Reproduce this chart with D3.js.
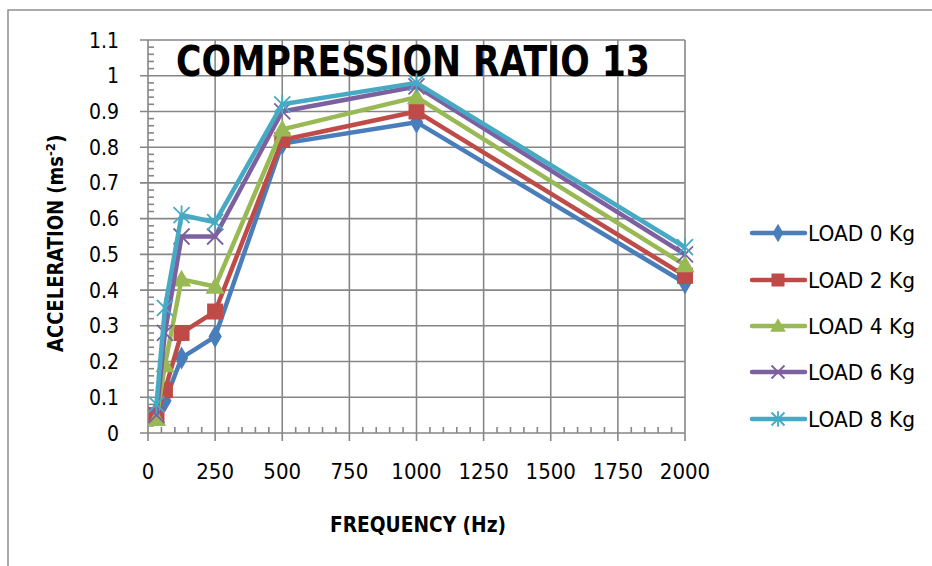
<!DOCTYPE html>
<html><head><meta charset="utf-8">
<script src="https://cdn.jsdelivr.net/npm/d3@7"></script>
<style>body{margin:0;background:#fff}svg{display:block}</style>
</head><body>
<svg id="c" width="932" height="566"></svg>
<script>
const frequencies = [31.5, 63, 125, 250, 500, 1000, 2000];
const seriesNames = ["LOAD 0 Kg","LOAD 2 Kg","LOAD 4 Kg","LOAD 6 Kg","LOAD 8 Kg"];
const load0 = [0.06, 0.09, 0.21, 0.27, 0.81, 0.87, 0.42];
const load2 = [0.05, 0.12, 0.28, 0.34, 0.82, 0.90, 0.44];
const load4 = [0.04, 0.19, 0.43, 0.41, 0.85, 0.94, 0.47];
const load6 = [0.05, 0.28, 0.55, 0.55, 0.90, 0.97, 0.50];
const load8 = [0.08, 0.35, 0.61, 0.59, 0.92, 0.98, 0.52];
const xTicks = [0,250,500,750,1000,1250,1500,1750,2000];
const yTicks = [0,0.1,0.2,0.3,0.4,0.5,0.6,0.7,0.8,0.9,1,1.1];
const colors = ["#4a7ebb","#be4b48","#98b954","#7d60a0","#46aac5"];
const markers = ["diamond","square","triangle","x","star"];
const allSeries = [load0,load2,load4,load6,load8];

const svg = d3.select("#c");
const NARROW = "'Liberation Sans Narrow','Arial Narrow','DejaVu Sans Condensed',sans-serif";
const L=148, R=685, T=40, B=433;
const x = d3.scaleLinear().domain([0,2000]).range([L,R]);
const y = d3.scaleLinear().domain([0,1.1]).range([B,T]);
const grid="#868686";

// outer chart border
svg.append("rect").attr("x",8).attr("y",10).attr("width",1000).attr("height",1000)
  .attr("fill","none").attr("stroke","#8e8e8e").attr("stroke-width",1.5);

// gridlines
svg.append("g").selectAll("line").data(yTicks).join("line")
  .attr("x1",L-8).attr("x2",R).attr("y1",d=>y(d)).attr("y2",d=>y(d))
  .attr("stroke",grid).attr("stroke-width",1.6);
svg.append("g").selectAll("line").data(xTicks).join("line")
  .attr("x1",d=>x(d)).attr("x2",d=>x(d)).attr("y1",T).attr("y2",B+8)
  .attr("stroke",grid).attr("stroke-width",1.6);
// minor ticks
const yMinor = d3.range(0,56).map(i=>i*0.02).filter((d,i)=>i%5!==0);
svg.append("g").selectAll("line").data(yMinor).join("line")
  .attr("x1",L).attr("x2",L+6).attr("y1",d=>y(d)).attr("y2",d=>y(d))
  .attr("stroke",grid).attr("stroke-width",1.6);
const xMinor = d3.range(0,41).map(i=>i*50).filter((d,i)=>i%5!==0);
svg.append("g").selectAll("line").data(xMinor).join("line")
  .attr("x1",d=>x(d)).attr("x2",d=>x(d)).attr("y1",B).attr("y2",B-6)
  .attr("stroke",grid).attr("stroke-width",1.6);

// tick labels
svg.append("g").selectAll("text").data(yTicks).join("text")
  .attr("x",119).attr("y",d=>y(d)).attr("dy","0.36em").attr("text-anchor","end")
  .attr("font-family",NARROW).attr("font-size",21).attr("fill","#000")
  .text(d=>d3.format("~g")(d));
svg.append("g").selectAll("text").data(xTicks).join("text")
  .attr("x",d=>x(d)).attr("y",479).attr("text-anchor","middle")
  .attr("font-family",NARROW).attr("font-size",22).attr("fill","#000")
  .text(d=>d);

// titles
svg.append("text").attr("x",176).attr("y",76)
  .attr("textLength",474).attr("lengthAdjust","spacingAndGlyphs")
  .attr("font-family",NARROW).attr("font-weight","bold").attr("font-size",43)
  .text("COMPRESSION RATIO 13");
svg.append("text").attr("x",330).attr("y",532)
  .attr("textLength",176).attr("lengthAdjust","spacingAndGlyphs")
  .attr("font-family",NARROW).attr("font-weight","bold").attr("font-size",21)
  .text("FREQUENCY (Hz)");
const yt = svg.append("text").attr("transform","translate(63,352) rotate(-90)")
  .attr("font-family",NARROW).attr("font-weight","bold").attr("font-size",21);
yt.append("tspan").attr("textLength",196).attr("lengthAdjust","spacingAndGlyphs").text("ACCELERATION (ms");
yt.append("tspan").attr("font-size",13).attr("dy",-8).text("-2");
yt.append("tspan").attr("dy",8).text(")");

// marker drawing
function drawMarker(g, type, color, s){
  if(type==="diamond"){
    g.append("path").attr("d",d3.symbol(d3.symbolDiamond, s*s*0.6)()).attr("fill",color);
  } else if(type==="square"){
    g.append("rect").attr("x",-s/2).attr("y",-s/2).attr("width",s).attr("height",s).attr("fill",color);
  } else if(type==="triangle"){
    g.append("path").attr("d",`M0,${-s*0.6}L${s*0.6},${s*0.45}L${-s*0.6},${s*0.45}Z`).attr("fill",color);
  } else if(type==="x"){
    const h=s/2;
    g.append("path").attr("d",`M${-h},${-h}L${h},${h}M${-h},${h}L${h},${-h}`)
      .attr("stroke",color).attr("stroke-width",1.8).attr("fill","none");
  } else {
    const h=s/2;
    g.append("path").attr("d",`M${-h},${-h}L${h},${h}M${-h},${h}L${h},${-h}M0,${-h*1.2}L0,${h*1.2}`)
      .attr("stroke",color).attr("stroke-width",1.8).attr("fill","none");
  }
}

const line = d3.line().x((d,i)=>x(frequencies[i])).y(d=>y(d));
allSeries.forEach((vals,si)=>{
  const g = svg.append("g");
  g.append("path").datum(vals).attr("d",line).attr("fill","none")
    .attr("stroke",colors[si]).attr("stroke-width",4.5).attr("stroke-linejoin","round");
  vals.forEach((v,i)=>{
    const m = g.append("g").attr("transform",`translate(${x(frequencies[i])},${y(v)})`);
    drawMarker(m, markers[si], colors[si], 16);
  });
});

// legend
const legY = [233,280,326,372,419];
seriesNames.forEach((n,i)=>{
  const g = svg.append("g").attr("transform",`translate(0,${legY[i]})`);
  g.append("line").attr("x1",752).attr("x2",805).attr("y1",0).attr("y2",0)
    .attr("stroke",colors[i]).attr("stroke-width",4.5).attr("stroke-linecap","round");
  const m = g.append("g").attr("transform","translate(778,0)");
  drawMarker(m, markers[i], colors[i], 13);
  g.append("text").attr("x",808).attr("y",0).attr("dy","0.36em")
    .attr("textLength",107).attr("lengthAdjust","spacingAndGlyphs")
    .attr("font-family",NARROW).attr("font-size",22).text(n);
});
</script>
</body></html>
